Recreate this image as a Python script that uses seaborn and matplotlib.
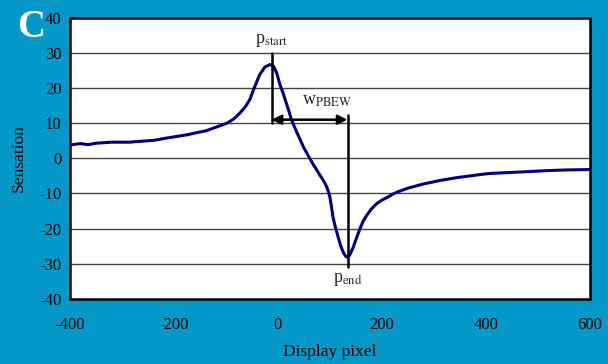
import pandas as pd
import matplotlib.pyplot as plt
import seaborn as sns

# data
pixel = [-400, -380, -365, -350, -320, -285, -260, -240, -213, -175, -137, -98,
         -85, -73, -63, -54, -47, -35, -25, -15, -8, -2, 4, 10, 14, 19, 23, 26,
         36, 49, 65, 81, 88, 94, 97, 100, 103, 106, 111, 116, 121, 126, 130,
         133, 137, 140, 145, 150, 158, 164, 171, 180, 190, 200, 212, 222, 235,
         250, 280, 312, 344, 370, 390, 408, 465, 517, 555, 600]
sensation = [3.8, 4.2, 3.9, 4.3, 4.6, 4.6, 4.9, 5.1, 5.8, 6.7, 7.9, 10.0,
             11.2, 12.9, 14.6, 16.7, 19.5, 23.8, 26.0, 26.7, 26.2, 24.2, 21.0,
             18.6, 16.7, 14.5, 12.6, 11.0, 7.6, 3.3, -1.0, -4.8, -6.4, -8.1,
             -9.4, -11.0, -13.6, -16.7, -19.8, -22.4, -25.0, -26.8, -27.8,
             -28.1, -27.8, -27.0, -25.3, -23.2, -20.0, -17.9, -16.2, -14.4,
             -12.9, -11.9, -11.0, -10.1, -9.3, -8.5, -7.3, -6.3, -5.5, -5.0,
             -4.6, -4.3, -3.9, -3.5, -3.3, -3.2]
p_start = -12
p_end = 134
xticks = [-400, -200, 0, 200, 400, 600]
yticks = [-40, -30, -20, -10, 0, 10, 20, 30, 40]

df = pd.DataFrame({'Display pixel': pixel, 'Sensation': sensation})

sns.set_style('white')
plt.rcParams['font.family'] = ['Liberation Serif', 'DejaVu Serif']
plt.rcParams['mathtext.fontset'] = 'stix'
plt.rcParams['axes.unicode_minus'] = False

bg = '#0499c9'
fig = plt.figure(figsize=(6.08, 3.64), dpi=100, facecolor=bg)
ax = fig.add_axes([0.115, 0.179, 0.855, 0.772])
ax.set_facecolor('white')

for v in yticks[1:-1]:
    ax.axhline(v, color='#444444', lw=1, zorder=1)

sns.lineplot(data=df, x='Display pixel', y='Sensation', color='#000080', lw=2.2, ax=ax, zorder=3)

# annotation lines
ax.plot([p_start, p_start], [30, 10], color='black', lw=1.8, zorder=4)
ax.plot([p_end, p_end], [12.4, -31], color='black', lw=1.8, zorder=4)
ax.annotate('', xy=(p_start, 11), xytext=(p_end, 11),
            arrowprops=dict(arrowstyle='<|-|>', color='black', lw=1.8,
                            mutation_scale=14, shrinkA=0, shrinkB=0), zorder=5)
ax.text(p_start, 33.5, r'p$_{\mathrm{start}}$', ha='center', va='center', fontsize=13)
ax.text(95, 16.5, r'w$_{\mathrm{PBEW}}$', ha='center', va='center', fontsize=13)
ax.text(p_end, -34.5, r'p$_{\mathrm{end}}$', ha='center', va='center', fontsize=13)

ax.set_xlim(-400, 600)
ax.set_ylim(-40, 40)
ax.set_xticks(xticks)
ax.set_yticks(yticks)
ax.tick_params(axis='both', direction='in', length=5, width=1, labelsize=12,
               color='black', labelcolor='black')
ax.tick_params(axis='x', pad=13)
ax.tick_params(axis='y', pad=6)
ax.set_xlabel('Display pixel', fontsize=12.5, color='black', labelpad=8)
ax.set_ylabel('Sensation', fontsize=12.5, color='black', labelpad=9)
for s in ax.spines.values():
    s.set_color('black')
    s.set_linewidth(1.8)

fig.text(0.051, 0.925, 'C', color='white', fontsize=28, fontweight='bold', ha='center', va='center')

fig.savefig('out.png', dpi=100, facecolor=bg)
